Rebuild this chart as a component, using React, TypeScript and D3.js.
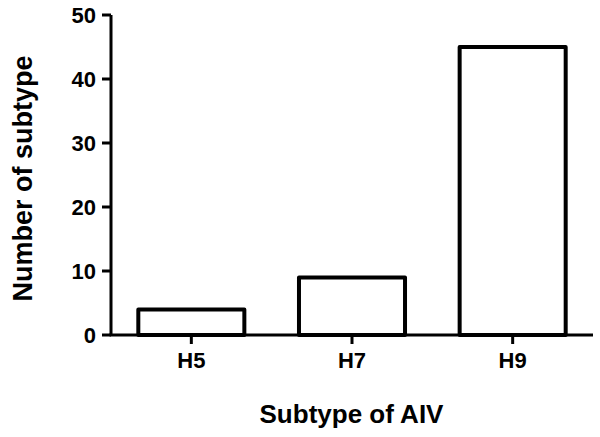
import React from "react";
import * as d3 from "d3";

const categories = ["H5", "H7", "H9"];
const values = [4, 9, 45];
const yTicks = [0, 10, 20, 30, 40, 50];

export default function App() {
  const W = 600, H = 437;
  const x0 = 111, x1 = 593, yTop = 15, yBot = 335;
  const x = d3.scaleBand<string>().domain(categories).range([x0, x1]).paddingInner(0.34).paddingOuter(0.17);
  const y = d3.scaleLinear().domain([0, 50]).range([yBot, yTop]);
  const font = "Liberation Sans, Arial, sans-serif";
  return (
    <svg width={W} height={H} style={{ position: "absolute", left: 0, top: 0, background: "#fff" }}>
      {categories.map((c, i) => (
        <rect key={c} x={x(c)!} y={y(values[i])} width={x.bandwidth()} height={yBot - y(values[i])}
          fill="#fff" stroke="#000" strokeWidth={4} strokeLinejoin="round" />
      ))}
      <line x1={x0} x2={x0} y1={yTop} y2={yBot} stroke="#000" strokeWidth={3} />
      <line x1={x0 - 1.5} x2={x1} y1={yBot} y2={yBot} stroke="#000" strokeWidth={3} />
      {yTicks.map(t => (
        <g key={t}>
          <line x1={x0 - 9} x2={x0} y1={y(t)} y2={y(t)} stroke="#000" strokeWidth={3} />
          <text x={x0 - 15} y={y(t) + 8} textAnchor="end" fontFamily={font} fontWeight="bold" fontSize={22}>{t}</text>
        </g>
      ))}
      {categories.map(c => {
        const cx = x(c)! + x.bandwidth() / 2;
        return (
          <g key={c}>
            <line x1={cx} x2={cx} y1={yBot} y2={yBot + 9} stroke="#000" strokeWidth={3} />
            <text x={cx} y={368} textAnchor="middle" fontFamily={font} fontWeight="bold" fontSize={22}>{c}</text>
          </g>
        );
      })}
      <text x={351.5} y={423} textAnchor="middle" fontFamily={font} fontWeight="bold" fontSize={26}>Subtype of AIV</text>
      <text transform={`translate(32, 178.5) rotate(-90)`} textAnchor="middle" fontFamily={font} fontWeight="bold" fontSize={27}>Number of subtype</text>
    </svg>
  );
}
